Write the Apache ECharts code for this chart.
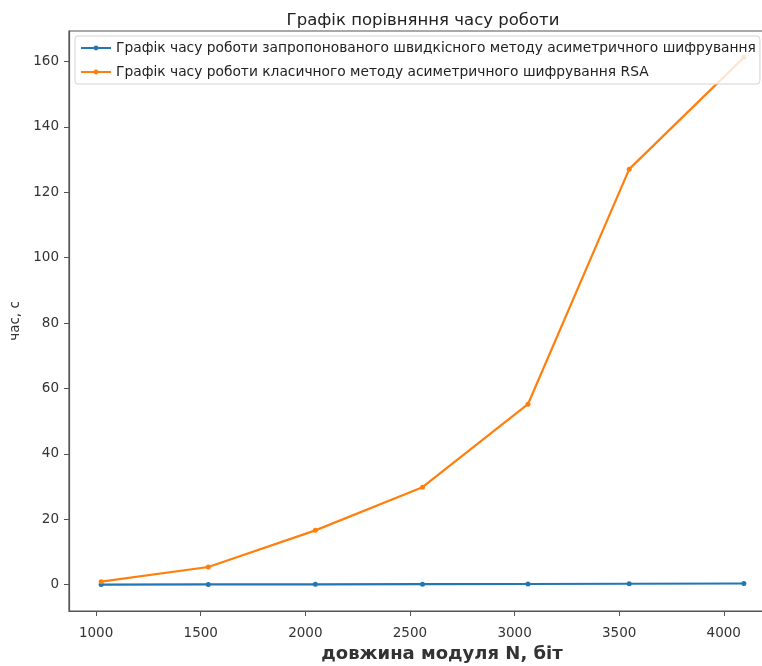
<!DOCTYPE html>
<html>
<head>
<meta charset="utf-8">
<script src="https://cdn.jsdelivr.net/npm/echarts@6/dist/echarts.min.js"></script>
<style>
  html, body { margin: 0; padding: 0; background: #fff; }
  #chart { width: 762px; height: 666px; }
</style>
</head>
<body>
<div id="chart"></div>
<script>
// Modulus length N in bits
const keyBits = [1024, 1536, 2048, 2560, 3064, 3548, 4096];
// Running time, seconds: proposed fast asymmetric method
const fastTimes = [0.02, 0.05, 0.09, 0.14, 0.2, 0.27, 0.35];
// Running time, seconds: classic RSA
const rsaTimes = [0.9, 5.4, 16.6, 29.8, 55.2, 127.1, 161.3];

const xTicks = [1000, 1500, 2000, 2500, 3000, 3500, 4000];
const yTicks = [0, 20, 40, 60, 80, 100, 120, 140, 160];

const titleText = 'Графік порівняння часу роботи';
const xLabel = 'довжина модуля N, біт';
const yLabel = 'час, с';
const fastName = 'Графік часу роботи запропонованого швидкісного методу асиметричного шифрування';
const rsaName = 'Графік часу роботи класичного методу асиметричного шифрування RSA';

const FONT = 'DejaVu Sans';
const AXIS_COLOR = '#555';

function pairs(xs, ys) { return xs.map((x, i) => [x, ys[i]]); }

// axis padding of 5% around the data range
const xMin = Math.min(...keyBits), xMax = Math.max(...keyBits);
const xPad = (xMax - xMin) * 0.05;
const yAll = fastTimes.concat(rsaTimes);
const yLo = Math.min(...yAll, 0), yHi = Math.max(...yAll);
const yPad = (yHi - yLo) * 0.05;

const chart = echarts.init(document.getElementById('chart'), null, { renderer: 'canvas' });
chart.setOption({
  animation: false,
  backgroundColor: '#fff',
  title: [
    {
      text: titleText, left: 418, top: 7, textAlign: 'center',
      textStyle: { fontFamily: FONT, fontSize: 16.5, fontWeight: 'normal', color: '#222' }
    },
    {
      text: xLabel, left: 437, top: 640, textAlign: 'center',
      textStyle: { fontFamily: FONT, fontSize: 18, fontWeight: 'bold', color: '#333' }
    }
  ],
  grid: {
    left: 69, top: 31, right: -14, bottom: 55,
    show: true, borderColor: AXIS_COLOR, borderWidth: 1.2,
    outerBoundsMode: 'none', containLabel: false
  },
  legend: {
    orient: 'vertical', left: 75, top: 36,
    padding: [5, 4, 5, 5], itemGap: 10, itemWidth: 30, itemHeight: 6,
    backgroundColor: 'rgba(255,255,255,0.8)',
    borderColor: '#d4d4d4', borderWidth: 1, borderRadius: 3,
    textStyle: { fontFamily: FONT, fontSize: 13.8, color: '#222', lineHeight: 14 },
    data: [fastName, rsaName]
  },
  xAxis: {
    type: 'value', min: xMin - xPad, max: xMax + xPad,
    axisLine: { show: true, onZero: false, lineStyle: { color: AXIS_COLOR, width: 1.2 } },
    axisTick: { show: true, customValues: xTicks, length: 5, lineStyle: { color: AXIS_COLOR } },
    axisLabel: {
      customValues: xTicks, margin: 15, fontFamily: FONT, fontSize: 13.5, color: '#333',
      formatter: v => String(v)
    },
    splitLine: { show: false }
  },
  yAxis: {
    type: 'value', min: yLo - yPad, max: yHi + yPad,
    name: yLabel, nameLocation: 'middle', nameGap: 44, nameRotate: 90,
    nameTextStyle: { fontFamily: FONT, fontSize: 13.5, color: '#333' },
    axisLine: { show: true, onZero: false, lineStyle: { color: AXIS_COLOR, width: 1.2 } },
    axisTick: { show: true, customValues: yTicks, length: 5, lineStyle: { color: AXIS_COLOR } },
    axisLabel: { customValues: yTicks, margin: 10, fontFamily: FONT, fontSize: 13.5, color: '#333' },
    splitLine: { show: false }
  },
  series: [
    {
      name: fastName, type: 'line', data: pairs(keyBits, fastTimes),
      symbol: 'circle', symbolSize: 5, showSymbol: true,
      lineStyle: { color: '#1f77b4', width: 2.2 }, itemStyle: { color: '#1f77b4' },
      z: 3
    },
    {
      name: rsaName, type: 'line', data: pairs(keyBits, rsaTimes),
      symbol: 'circle', symbolSize: 5, showSymbol: true,
      lineStyle: { color: '#ff7f0e', width: 2.2 }, itemStyle: { color: '#ff7f0e' },
      z: 3
    }
  ]
});
</script>
</body>
</html>
